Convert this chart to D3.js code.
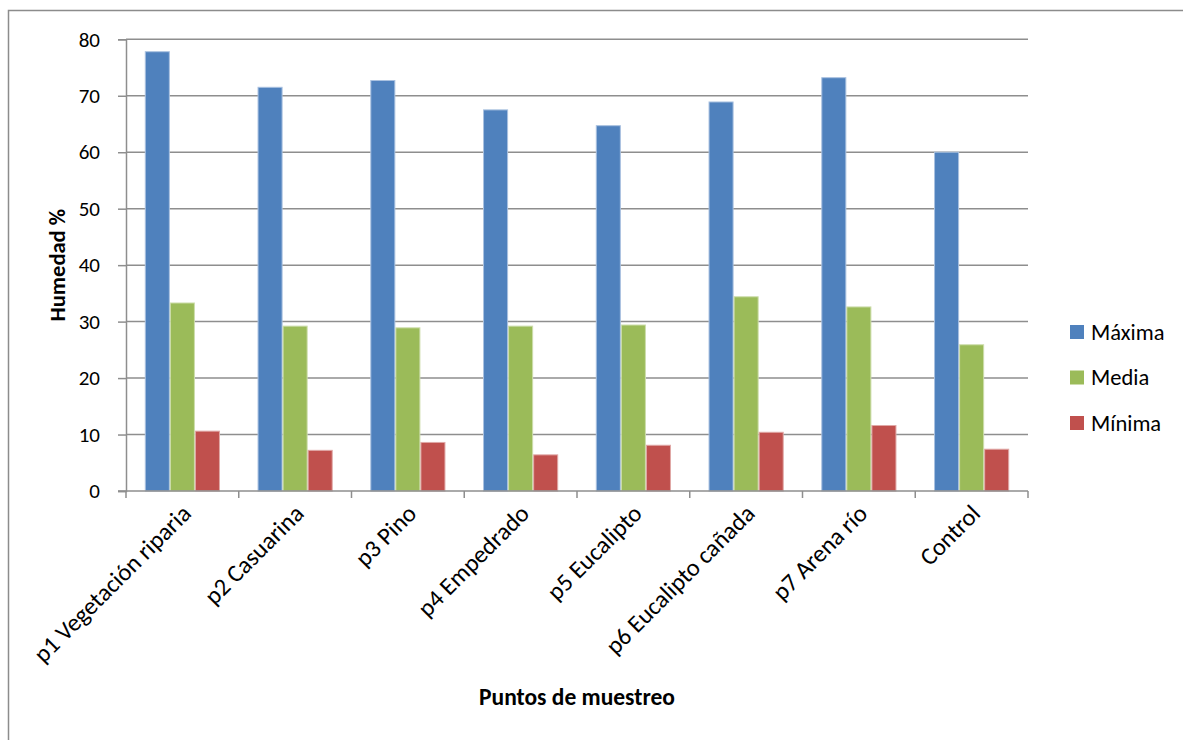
<!DOCTYPE html>
<html>
<head>
<meta charset="utf-8">
<script src="https://cdn.jsdelivr.net/npm/d3@7"></script>
<style>
  html, body { margin: 0; padding: 0; background: #fff; }
  svg { display: block; font-family: Calibri, Carlito, Lato, "Open Sans", sans-serif; }
</style>
</head>
<body>
<svg id="chart" width="1183" height="740"></svg>
<script>
// Sampling points and humidity series
const categories = ["p1 Vegetación riparia", "p2 Casuarina", "p3 Pino", "p4 Empedrado",
  "p5 Eucalipto", "p6 Eucalipto cañada", "p7 Arena río", "Control"];
const seriesNames = ["Máxima", "Media", "Mínima"];
const maxima = [77.8, 71.5, 72.7, 67.5, 64.7, 68.9, 73.2, 60.0];
const media  = [33.3, 29.2, 28.9, 29.2, 29.4, 34.4, 32.6, 25.9];
const minima = [10.6, 7.2, 8.6, 6.4, 8.1, 10.4, 11.6, 7.4];
const yTicks = [0, 10, 20, 30, 40, 50, 60, 70, 80];
const colors = ["#4F81BD", "#9BBB59", "#C0504D"];
const strokes = ["#A9C1E0", "#CDDDAC", "#E0A8A6"];

const series = [maxima, media, minima];
const svg = d3.select("#chart");

// Outer chart frame
svg.append("rect")
  .attr("x", 8.5).attr("y", 10.5).attr("width", 1200).attr("height", 760)
  .attr("fill", "none").attr("stroke", "#8c8c8c").attr("stroke-width", 1.5);

const plotLeft = 126, plotRight = 1028, plotTop = 39.3, plotBottom = 491;
const x0 = d3.scaleBand().domain(categories).range([plotLeft, plotRight]).paddingInner(0).paddingOuter(0);
const bw = x0.bandwidth();
// Gap width 150%: each group = 3 bars + 1.5 bar widths of gap
const barW = bw / 4.5;
const x1 = d3.scaleBand().domain(seriesNames).range([0.75 * barW, bw - 0.75 * barW]).padding(0);
const y = d3.scaleLinear().domain([0, 80]).range([plotBottom, plotTop]);

// Horizontal gridlines
svg.append("g").selectAll("line").data(yTicks.filter(t => t > 0)).join("line")
  .attr("x1", plotLeft).attr("x2", plotRight)
  .attr("y1", d => y(d)).attr("y2", d => y(d))
  .attr("stroke", "#8e8e8e").attr("stroke-width", 1.5);

// Bars
const groups = svg.append("g").selectAll("g").data(categories).join("g")
  .attr("transform", d => `translate(${x0(d)},0)`);
groups.selectAll("rect")
  .data((c, i) => series.map((s, k) => ({ k, v: s[i] })))
  .join("rect")
  .attr("x", d => x1(seriesNames[d.k]) + 0.5)
  .attr("width", x1.bandwidth() - 1)
  .attr("y", d => y(d.v))
  .attr("height", d => y(0) - y(d.v))
  .attr("fill", d => colors[d.k])
  .attr("stroke", d => strokes[d.k]).attr("stroke-width", 1);

// Y axis
const yAxis = d3.axisLeft(y).tickValues(yTicks).tickSize(8).tickPadding(18).tickFormat(d3.format("d"));
const yg = svg.append("g").attr("transform", `translate(${plotLeft},0)`).call(yAxis);
yg.select(".domain").attr("stroke", "#8e8e8e").attr("stroke-width", 1.5);
yg.selectAll(".tick line").attr("stroke", "#8e8e8e").attr("stroke-width", 1.5);
yg.selectAll(".tick text").attr("font-size", 21).attr("fill", "#000")
  .attr("font-family", "Calibri, Carlito, Lato, 'Open Sans', sans-serif");

// X axis: ticks at category boundaries
const xBounds = categories.map(c => x0(c)).concat([plotRight]);
const xg = svg.append("g");
xg.append("line").attr("x1", plotLeft - 8).attr("x2", plotRight).attr("y1", plotBottom).attr("y2", plotBottom)
  .attr("stroke", "#8e8e8e").attr("stroke-width", 1.5);
xg.selectAll("line.tk").data(xBounds).join("line").attr("class", "tk")
  .attr("x1", d => d).attr("x2", d => d).attr("y1", plotBottom).attr("y2", plotBottom + 7)
  .attr("stroke", "#8e8e8e").attr("stroke-width", 1.5);
xg.selectAll("text").data(categories).join("text")
  .attr("transform", d => `translate(${x0(d) + bw / 2 + 4},${plotBottom + 18}) rotate(-45)`)
  .attr("text-anchor", "end").attr("dy", "0.35em")
  .attr("font-size", 24.5).attr("fill", "#000")
  .text(d => d);

// Axis titles
svg.append("text")
  .attr("transform", `translate(65,${(plotTop + plotBottom) / 2}) rotate(-90)`)
  .attr("text-anchor", "middle").attr("font-size", 22.5).attr("font-weight", "bold")
  .text("Humedad %");
svg.append("text")
  .attr("x", (plotLeft + plotRight) / 2).attr("y", 705)
  .attr("text-anchor", "middle").attr("font-size", 23.5).attr("font-weight", "bold")
  .text("Puntos de muestreo");

// Legend
const legend = svg.append("g").selectAll("g").data(seriesNames).join("g")
  .attr("transform", (d, i) => `translate(1070,${332 + i * 45.5})`);
legend.append("rect").attr("x", 0).attr("y", -7).attr("width", 14).attr("height", 14)
  .attr("fill", (d, i) => colors[i]);
legend.append("text").attr("x", 21).attr("dy", "0.35em")
  .attr("font-size", 22.5).attr("fill", "#000").text(d => d);
</script>
</body>
</html>
